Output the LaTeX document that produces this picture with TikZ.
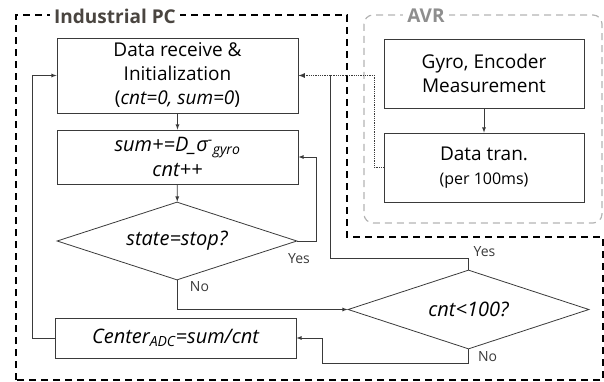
\documentclass[tikz,border=0pt]{standalone}
\usepackage{fontspec}
\setmainfont{Open Sans}
\usetikzlibrary{shapes.geometric}

\definecolor{linegray}{HTML}{3A3A3A}
\definecolor{titlegray}{HTML}{4A4540}
\definecolor{avrgray}{HTML}{8E8E8E}
\definecolor{framegray}{HTML}{B4B4B4}

\begin{document}
\begin{tikzpicture}[x=1pt, y=-1pt, font=\fontsize{19}{24}\selectfont,
  box/.style={draw=linegray, line width=0.8pt, minimum width=241pt, inner sep=0pt, align=center},
  decision/.style={draw=linegray, line width=0.8pt, diamond, aspect=3, inner sep=0pt, minimum width=240pt, minimum height=78pt},
  flow/.style={draw=linegray, line width=0.8pt, -latex},
  formula/.style={font=\itshape\fontsize{20}{25}\selectfont},
  answer/.style={font=\fontsize{14}{16}\selectfont, text=linegray},
  frametitle/.style={fill=white, inner sep=4pt, font=\bfseries\fontsize{19}{21}\selectfont}]

\useasboundingbox (0,0) rectangle (604,382);

% frames
\draw[dashed, line width=1.6pt, dash pattern=on 7pt off 5pt] (16,380) -- (16,15) -- (347,15) -- (347,237) -- (603,237) -- (603,380) -- cycle;
\draw[framegray, dashed, line width=1.2pt, dash pattern=on 7pt off 5pt, rounded corners=9pt] (364,15) rectangle (602,223);
\node[frametitle, text=titlegray] (pctitle) at (115,16) {Industrial PC};
\node[frametitle, text=avrgray] (avrtitle) at (426,16) {AVR};

% industrial PC side
\node[box, minimum height=75pt] (recv) at (177.5,75.5) {Data receive \&\\Initialization\\(\textit{cnt=0, sum=0})};
\node[box, formula, minimum height=54pt] (accum) at (177.5,157) {sum+=D\_σ\textsuperscript{-}\textsubscript{gyro}\\cnt++};
\node[decision, formula] (stop) at (177,241) {state=stop?};
\node[box, formula, minimum height=40pt] (center) at (175.5,338) {Center\textsubscript{ADC}=sum/cnt};
\node[decision, formula, minimum width=241pt, minimum height=79pt] (cmp) at (468.5,309.5) {cnt<100?};

% AVR side
\node[box, minimum width=200pt, minimum height=69pt] (meas) at (484,73.5) {Gyro, Encoder\\Measurement};
\node[box, minimum width=200pt, minimum height=69pt] (tran) at (484,167.5) {Data tran.\\{\fontsize{16}{18}\selectfont(per 100ms)}};

\coordinate (join) at (330,75.5);

\draw[flow] (recv) -- (accum);
\draw[flow] (accum) -- (stop);
\draw[flow] (stop.east) -- ++(19,0) |- (accum.east);
\draw[flow] (stop.south) |- (cmp.west);
\draw[draw=linegray, line width=0.8pt] (cmp.north) -- ++(0,-11) -| (join);
\draw[flow] (cmp.south) -- ++(0,14) -| ([xshift=26pt]center.east) -- (center.east);
\draw[flow] (center.west) -- ++(-22,0) |- (recv.west);
\draw[flow] (meas) -- (tran);
\draw[flow, densely dotted, line width=1.2pt] (tran.west) -- ++(-9,0) |- (recv.east);

\node[answer] (yes1) at (299,259) {Yes};
\node[answer] (no1) at (199.5,287) {No};
\node[answer] (yes2) at (484.5,252) {Yes};
\node[answer] (no2) at (487.5,357) {No};

\end{tikzpicture}
\end{document}
